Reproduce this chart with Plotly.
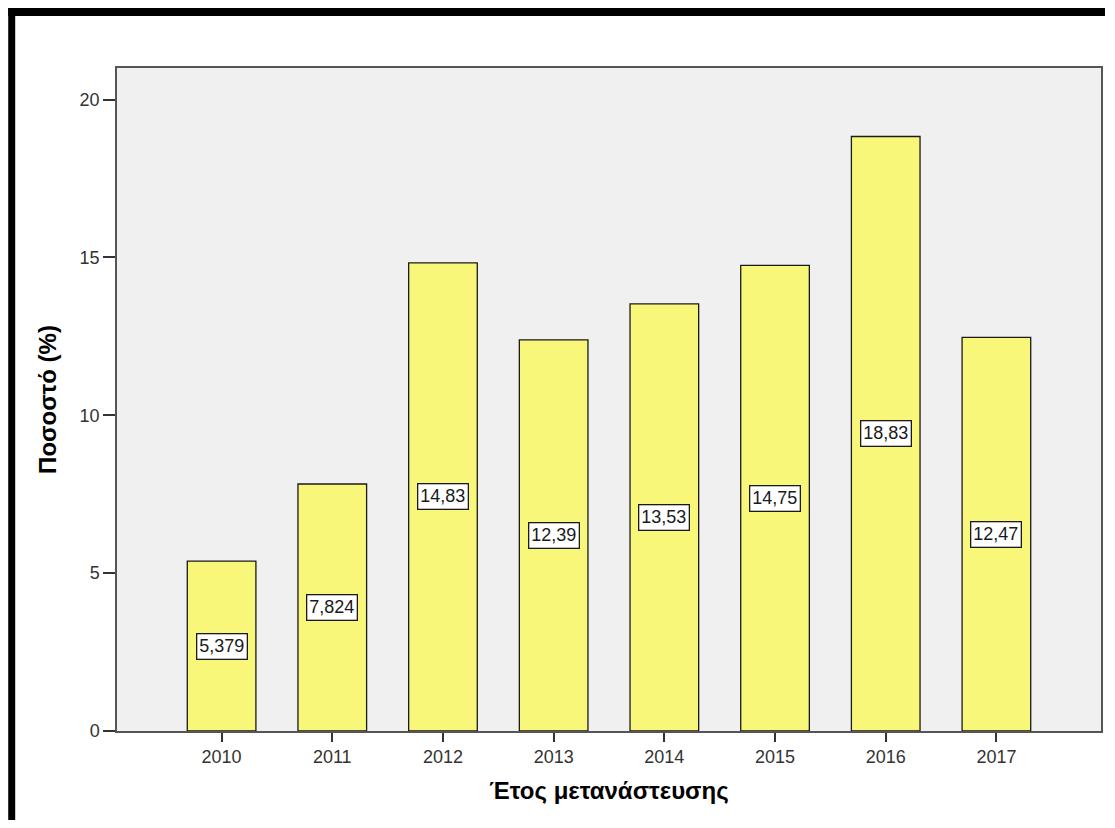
import plotly.graph_objects as go

years = ["2010", "2011", "2012", "2013", "2014", "2015", "2016", "2017"]
percent = [5.379, 7.824, 14.83, 12.39, 13.53, 14.75, 18.83, 12.47]
labels = ["5,379", "7,824", "14,83", "12,39", "13,53", "14,75", "18,83", "12,47"]
y_ticks = [0, 5, 10, 15, 20]

W, H = 1099, 812
L, R, T, B = 109, 4, 60, 89
PW, PH = W - L - R, H - T - B


def px_x(fx):
    return (fx - L) / PW


def px_y(fy):
    return 1 + (T - fy) / PH


fig = go.Figure()
fig.add_trace(go.Bar(
    x=list(range(len(years))), y=percent,
    width=0.62,
    marker=dict(color="#f9f77a", line=dict(color="#1a1a1a", width=1.3)),
    hoverinfo="skip",
))

for i, (v, lab) in enumerate(zip(percent, labels)):
    fig.add_annotation(
        x=i, y=v / 2, text=lab, showarrow=False,
        font=dict(family="Liberation Sans, Arial", size=18, color="#1a1a1a"),
        bgcolor="white", bordercolor="#1a1a1a", borderwidth=1.3, borderpad=2,
    )

shapes = [
    dict(type="rect", xref="paper", yref="paper",
         x0=px_x(0), x1=px_x(W), y0=px_y(8), y1=px_y(0),
         fillcolor="black", line=dict(width=0), layer="above"),
    dict(type="rect", xref="paper", yref="paper",
         x0=px_x(0), x1=px_x(7), y0=px_y(H), y1=px_y(0),
         fillcolor="black", line=dict(width=0), layer="above"),
]

fig.update_layout(
    width=W, height=H,
    margin=dict(l=L, r=R, t=T, b=B, pad=0),
    paper_bgcolor="white", plot_bgcolor="#f0f0f0",
    showlegend=False,
    shapes=shapes,
    font=dict(family="Liberation Sans, Arial", color="#333333"),
    xaxis=dict(
        range=[-0.945, 7.945],
        tickmode="array", tickvals=list(range(len(years))), ticktext=years,
        ticks="outside", ticklen=9, tickwidth=1.5, tickcolor="#333333",
        tickfont=dict(size=18, color="#333333"),
        showline=True, linecolor="#555555", linewidth=1.5, mirror=True,
        showgrid=False, zeroline=False,
        title=dict(text="<b>Έτος μετανάστευσης</b>",
                   font=dict(size=24, color="black"),
                   standoff=16),
    ),
    yaxis=dict(
        range=[0, 21],
        tickmode="array", tickvals=y_ticks, ticktext=[str(t) for t in y_ticks],
        ticks="outside", ticklen=12, tickwidth=1.5, tickcolor="#333333",
        tickfont=dict(size=18, color="#333333"),
        showline=True, linecolor="#555555", linewidth=1.5, mirror=True,
        showgrid=False, zeroline=False,
        title=dict(text="<b>Ποσοστό (%)</b>",
                   font=dict(size=24, color="black"),
                   standoff=16),
    ),
)

fig.write_html("out.html")
